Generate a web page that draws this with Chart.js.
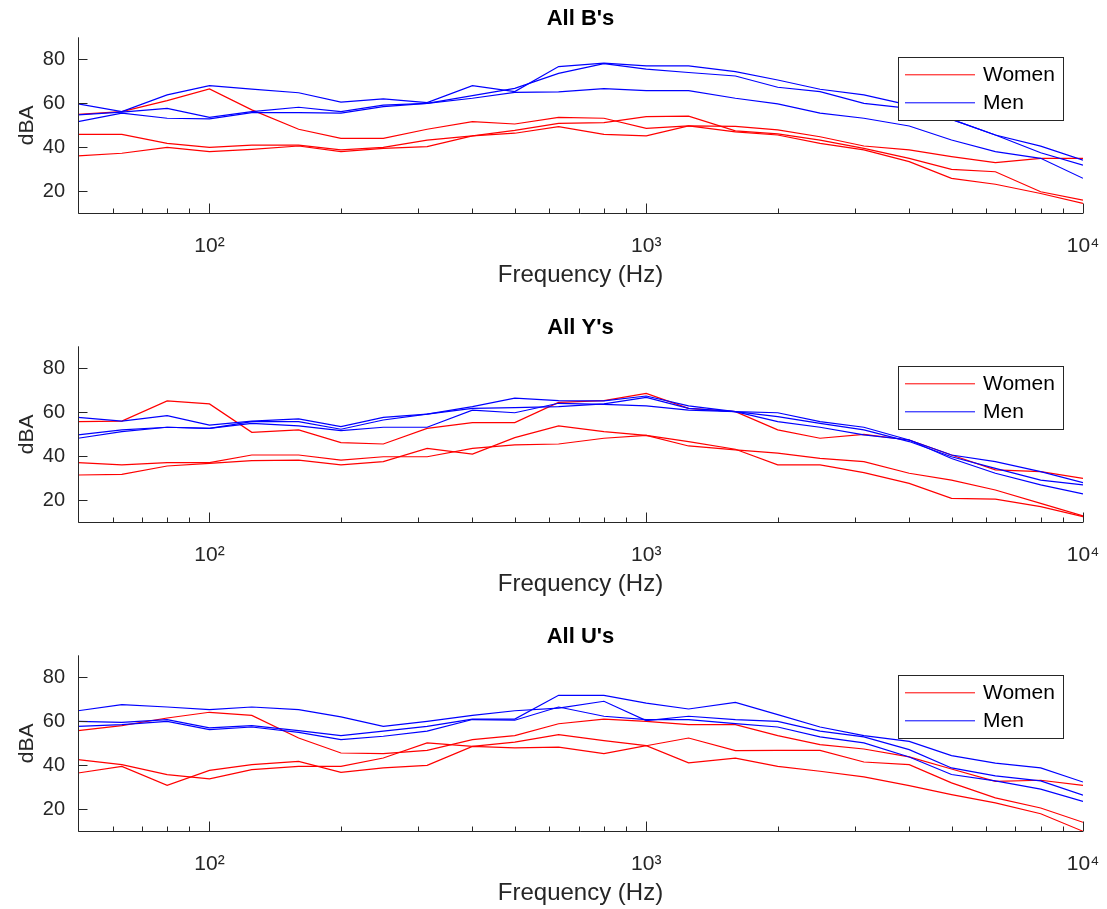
<!DOCTYPE html>
<html>
<head>
<meta charset="utf-8">
<script src="https://cdn.jsdelivr.net/npm/chart.js"></script>
<style>
  body { margin: 0; background: #fff; }
  canvas { position: absolute; left: 0; }
</style>
</head>
<body>
<canvas id="panelB" width="1107" height="309" style="top:0px"></canvas>
<canvas id="panelY" width="1107" height="309" style="top:309px"></canvas>
<canvas id="panelU" width="1107" height="309" style="top:618px"></canvas>
<script>
// third-octave band centres (Hz)
const freqs = [50, 63, 80, 100, 125, 160, 200, 250, 315, 400, 500, 630, 800, 1000, 1250, 1600, 2000, 2500, 3150, 4000, 5000, 6300, 8000, 10000];

// All B's
const womenB1 = [55, 56.2, 61.2, 66.5, 57, 48.2, 44.1, 44.1, 48.2, 51.7, 50.6, 53.6, 53.2, 48.6, 49.7, 49.5, 47.9, 44.8, 40.6, 38.8, 35.8, 33, 35, 35];
const womenB2 = [45.9, 45.9, 41.8, 40, 41, 41, 38.8, 40, 43.3, 45.2, 47.7, 50.9, 51.2, 53.9, 54.2, 47.5, 46.1, 43.3, 39.5, 35, 30, 28.9, 19.8, 16];
const womenB3 = [36.1, 37.3, 40, 38, 39.1, 40.6, 38, 39.5, 40.3, 45.2, 46.4, 49.4, 45.9, 45.2, 49.7, 47, 45.6, 41.8, 38.8, 33.5, 25.9, 23.2, 19, 14.5];
const menB1 = [59.7, 56.2, 63.8, 68, 66.4, 64.8, 60.5, 62, 60.3, 68, 65.3, 76.7, 78.3, 77, 77, 74.4, 70.6, 66.4, 63.8, 59.2, 52.7, 45.6, 40.5, 34.2];
const menB2 = [54.7, 56, 57.7, 53.6, 56.2, 58.2, 56.2, 59.2, 60, 63.5, 66.8, 73.6, 78, 75.5, 74, 72.4, 67.3, 65.3, 60, 57.7, 52.7, 45.6, 37.5, 31.9];
const menB3 = [51.7, 55.5, 53.2, 52.9, 55.8, 55.8, 55.5, 58.5, 60, 62.3, 65, 65.2, 66.7, 65.8, 65.8, 62.3, 59.7, 55.5, 53.2, 49.7, 43.3, 38, 35, 25.9];

// All Y's
const womenY1 = [55.8, 56, 65.2, 63.8, 50.9, 52, 46.2, 45.6, 52.7, 55.3, 55.3, 64.5, 65.3, 68.6, 61.8, 60.3, 52, 48.2, 50, 47.4, 40.6, 33.8, 33, 30];
const womenY2 = [37.1, 36.1, 37.1, 37.1, 40.6, 40.6, 38.3, 39.8, 39.8, 43.6, 45.2, 45.6, 48.2, 49.5, 46.7, 43.2, 36.1, 36.1, 32.6, 27.7, 20.9, 20.5, 17.1, 12.6];
const womenY3 = [31.5, 31.8, 35.6, 36.8, 38, 38.3, 36.1, 37.6, 43.6, 41, 48.5, 53.8, 51.2, 49.5, 44.7, 42.9, 41.4, 39.1, 37.6, 32.3, 29.2, 24.7, 18.6, 12.9];
const menY1 = [57.7, 56, 58.5, 54.2, 56, 57, 53.5, 57.7, 59.2, 62.6, 66.4, 65.3, 65.2, 67.4, 62.9, 60.3, 59.8, 55.8, 53.2, 47.4, 40.6, 37.6, 33, 28];
const menY2 = [49.7, 52, 53.2, 52.7, 55.8, 55.8, 52.3, 56.5, 59.2, 61.8, 62.1, 62.6, 63.8, 66.8, 61.8, 60.3, 58, 55, 52, 46.7, 39.8, 34.5, 29.2, 27];
const menY3 = [48.2, 51.2, 53.2, 52.7, 55, 53.8, 51.7, 53.2, 53.2, 61, 59.8, 64.1, 63.6, 62.9, 61, 60.3, 55.8, 53.2, 49.7, 47.4, 39, 32.3, 27, 22.9];

// All U's
const womenU1 = [55.8, 58, 61.5, 64.1, 62.7, 52.4, 45.6, 45.3, 46.8, 51.7, 53.5, 58.9, 61, 60, 58.5, 58.5, 53.5, 49.4, 47.4, 43.8, 38.3, 32.7, 33.2, 30.9];
const womenU2 = [42.6, 40.3, 35.8, 33.8, 38, 39.5, 39.5, 43.3, 50.2, 48.6, 50.5, 53.9, 51.2, 48.9, 52.4, 46.7, 46.8, 46.8, 41.5, 40.3, 32, 25.2, 20.6, 14.1];
const womenU3 = [36.5, 39.5, 30.9, 37.7, 40.3, 41.8, 36.8, 38.8, 40, 48.6, 47.9, 48.3, 45.3, 48.9, 41.1, 43.3, 39.5, 37.3, 34.7, 30.8, 26.7, 22.9, 18, 10];
const menU1 = [64.8, 67.6, 66.5, 65.3, 66.5, 65.3, 62, 57.7, 60, 62.7, 64.8, 66, 69.1, 60.3, 62.3, 60.8, 60, 55.5, 52.9, 47.1, 38.8, 35.2, 32.9, 26.4];
const menU2 = [60, 59.5, 60.8, 57, 58, 55.8, 53.5, 55.5, 57.7, 61, 61, 71.8, 71.8, 68.3, 65.6, 68.6, 63, 57.4, 53.5, 50.9, 44.4, 41, 38.8, 32.4];
const menU3 = [57.7, 58.5, 60, 56.2, 57.4, 55, 51.7, 53.2, 55.5, 60.8, 60.5, 66.5, 62.3, 60.8, 60.8, 58.9, 57.4, 52.9, 50.2, 43.8, 35.8, 32.9, 29.2, 23.6];

// axis ticks
const xTicks = [50, 60, 70, 80, 90, 100, 200, 300, 400, 500, 600, 700, 800, 900,
                1000, 2000, 3000, 4000, 5000, 6000, 7000, 8000, 9000, 10000];
const xTickLabels = { 100: '10²', 1000: '10³', 10000: '10⁴' };
const yTicks = [20, 40, 60, 80];
const legendLabels = ['Women', 'Men'];

const red = '#ff0000';
const blue = '#0000ff';
const axisColor = '#262626';

Chart.defaults.font.family = "'Liberation Sans', Arial, Helvetica, sans-serif";
Chart.defaults.color = axisColor;

// matlab style axes: left + bottom line, ticks pointing inwards
const matlabAxes = {
  id: 'matlabAxes',
  afterDatasetsDraw(chart) {
    const { ctx, chartArea: a, scales: { x, y } } = chart;
    ctx.save();
    ctx.strokeStyle = axisColor;
    ctx.lineWidth = 1;
    ctx.beginPath();
    const L = Math.round(a.left) + 0.5, B = Math.round(a.bottom) + 0.5;
    ctx.moveTo(L, a.top);
    ctx.lineTo(L, B);
    ctx.lineTo(a.right, B);
    x.ticks.forEach(t => {
      const px = Math.round(x.getPixelForValue(t.value)) + 0.5;
      const len = xTickLabels[t.value] ? 10 : 5;
      ctx.moveTo(px, B);
      ctx.lineTo(px, B - len);
    });
    y.ticks.forEach(t => {
      const py = Math.round(y.getPixelForValue(t.value)) + 0.5;
      ctx.moveTo(L, py);
      ctx.lineTo(L + 9, py);
    });
    ctx.stroke();
    ctx.restore();
  }
};

// legend box in the upper right corner
const boxLegend = {
  id: 'boxLegend',
  afterDraw(chart) {
    const { ctx, chartArea: a } = chart;
    const bx = a.right - 185, by = a.top + 20, bw = 165, bh = 63;
    ctx.save();
    ctx.fillStyle = '#fff';
    ctx.fillRect(bx, by, bw, bh);
    ctx.strokeStyle = axisColor;
    ctx.lineWidth = 1;
    ctx.strokeRect(Math.round(bx) + 0.5, Math.round(by) + 0.5, bw, bh);
    ctx.font = "21px 'Liberation Sans', Arial, sans-serif";
    ctx.textBaseline = 'middle';
    [red, blue].forEach((c, i) => {
      const ly = by + 17 + i * 28;
      ctx.strokeStyle = c;
      ctx.beginPath();
      ctx.moveTo(bx + 7, ly + 0.5);
      ctx.lineTo(bx + 77, ly + 0.5);
      ctx.stroke();
      ctx.fillStyle = '#000';
      ctx.fillText(legendLabels[i], bx + 85, ly + 1);
    });
    ctx.restore();
  }
};

function line(values, color) {
  return {
    data: values,
    borderColor: color,
    borderWidth: 1.2,
    pointRadius: 0,
    tension: 0,
    fill: false
  };
}

function makePanel(id, title, women, men) {
  // men listed first so they are drawn on top
  const datasets = men.map(v => line(v, blue)).concat(women.map(v => line(v, red)));
  new Chart(document.getElementById(id), {
    type: 'line',
    data: { labels: freqs, datasets: datasets },
    options: {
      responsive: false,
      animation: false,
      devicePixelRatio: 1,
      layout: { padding: { top: 0, left: 0, right: 24, bottom: 0 } },
      plugins: {
        legend: { display: false },
        tooltip: { enabled: false },
        title: {
          display: true,
          fullSize: false,
          text: title,
          color: '#000',
          font: { size: 22, weight: 'bold', lineHeight: 1.15 },
          padding: { top: 6, bottom: 6 }
        }
      },
      scales: {
        x: {
          type: 'logarithmic',
          min: 50,
          max: 10000,
          afterBuildTicks: s => { s.ticks = xTicks.map(v => ({ value: v })); },
          afterFit: s => { s.height = 309 - 213.3; s.paddingRight = 0; s.paddingLeft = 0; },
          grid: { display: false, drawTicks: false },
          border: { display: false },
          ticks: {
            autoSkip: false,
            maxRotation: 0,
            padding: 20,
            font: { size: 21 },
            callback: v => xTickLabels[v] || ''
          },
          title: {
            display: true,
            text: 'Frequency (Hz)',
            font: { size: 24 },
            padding: { top: 0, bottom: 19 }
          }
        },
        y: {
          min: 10,
          max: 90,
          afterBuildTicks: s => { s.ticks = yTicks.map(v => ({ value: v })); },
          afterFit: s => { s.width = 78; },
          grid: { display: false, drawTicks: false },
          border: { display: false },
          ticks: { padding: 13, font: { size: 20 } },
          title: {
            display: true,
            text: 'dBA',
            font: { size: 21 },
            padding: { top: 15, bottom: 0 }
          }
        }
      }
    },
    plugins: [matlabAxes, boxLegend]
  });
}

makePanel('panelB', "All B's", [womenB1, womenB2, womenB3], [menB1, menB2, menB3]);
makePanel('panelY', "All Y's", [womenY1, womenY2, womenY3], [menY1, menY2, menY3]);
makePanel('panelU', "All U's", [womenU1, womenU2, womenU3], [menU1, menU2, menU3]);
</script>
</body>
</html>
